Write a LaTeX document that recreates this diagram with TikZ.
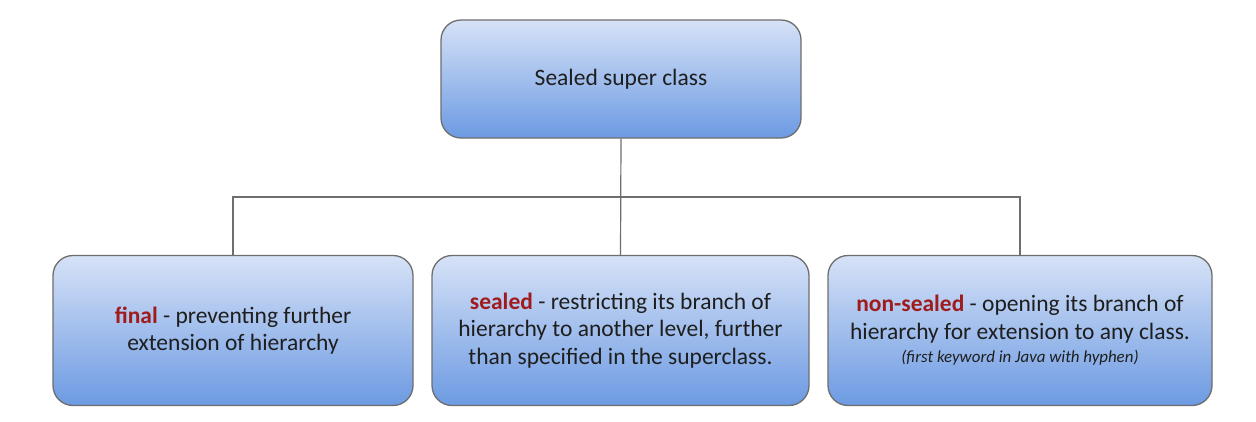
\documentclass[tikz,border=0pt]{standalone}
\usepackage{fontspec}
\setmainfont{Carlito}
\usetikzlibrary{positioning}
\definecolor{boxtop}{HTML}{D6E2F7}
\definecolor{boxbot}{HTML}{6C9AE2}
\definecolor{edge}{HTML}{6E6E6E}
\definecolor{kw}{HTML}{A01C1C}
\definecolor{txt}{HTML}{1E1E1E}
\tikzset{
  cls/.style={draw=edge, line width=1.3pt, rounded corners=20pt, top color=boxtop, bottom color=boxbot,
    text=txt, align=center, inner sep=0pt, font=\fontsize{23.5}{27.5}\selectfont},
  link/.style={draw=edge, line width=1.2pt}
}
\newcommand{\kwd}[1]{\textcolor{kw}{\textbf{#1}}}
\begin{document}
\begin{tikzpicture}[x=1pt,y=-1pt]
\useasboundingbox[fill=white] (0,0) rectangle (1256,421);
\node[cls, minimum width=360pt, minimum height=118pt] (top) at (621,79) {Sealed super class};
\node[cls, minimum width=360pt, minimum height=150pt] (final) at (233,330.5) {\kwd{final} - preventing further\\extension of hierarchy};
\node[cls, minimum width=377pt, minimum height=150pt] (sealed) at (620.5,330.5) {\kwd{sealed} - restricting its branch of\\hierarchy to another level, further\\than specified in the superclass.};
\node[cls, minimum width=384pt, minimum height=150pt] (nons) at (1020,330.5) {\kwd{non-sealed} - opening its branch of\\hierarchy for extension to any class.\\[-4pt]{\fontsize{16.9}{20}\selectfont\itshape (first keyword in Java with hyphen)}};
\coordinate (hl) at (233,197);
\coordinate (hr) at (1020,197);
\draw[link] (final.north) -- (hl) -- (hr) -- (nons.north);
\draw[link] (top.south) -- (sealed.north);
\end{tikzpicture}
\end{document}
